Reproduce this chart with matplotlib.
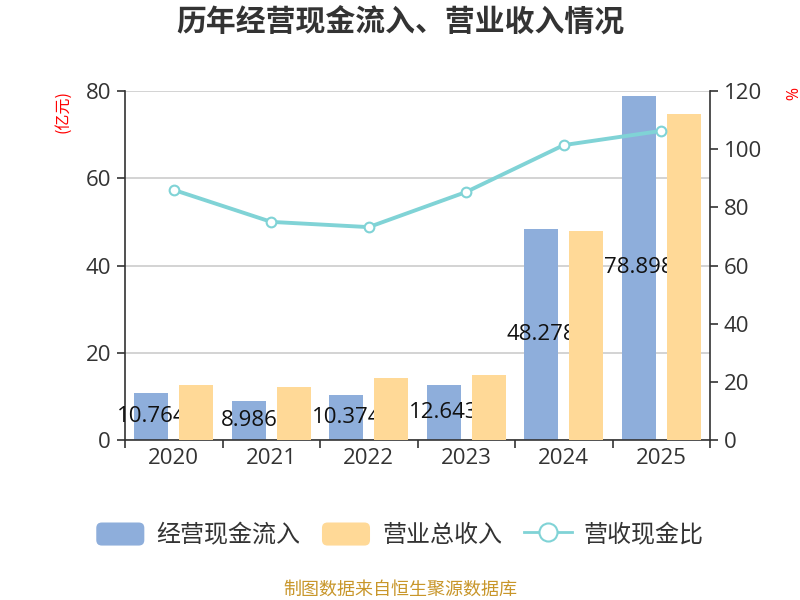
import matplotlib
matplotlib.use("Agg")
import matplotlib.pyplot as plt
from matplotlib.patches import FancyBboxPatch, Patch
from matplotlib.lines import Line2D
from matplotlib.legend_handler import HandlerPatch
import numpy as np

plt.rcParams['font.family'] = ['Noto Sans CJK SC', 'DejaVu Sans']

years = ['2020', '2021', '2022', '2023', '2024', '2025']
cash_in = [10.764, 8.986, 10.374, 12.643, 48.278, 78.898]
revenue = [12.7, 12.1, 14.3, 15.0, 47.9, 74.7]
ratio = [86.0, 75.0, 73.2, 85.3, 101.4, 106.3]

blue = '#8eaedb'
orange = '#ffd997'
teal = '#80d3d6'
dark = '#333333'
numfont = ['Open Sans', 'DejaVu Sans']


class RoundHandler(HandlerPatch):
    def create_artists(self, legend, orig_handle, xdescent, ydescent,
                       width, height, fontsize, trans):
        p = FancyBboxPatch((-xdescent, -ydescent), width, height,
                           boxstyle="round,pad=0,rounding_size=4",
                           fc=orig_handle.get_facecolor(), ec='none',
                           transform=trans)
        return [p]


fig = plt.figure(figsize=(8, 6), dpi=100)
ax = fig.add_axes([0.15625, 0.2667, 0.73125, 0.5816])
ax2 = ax.twinx()

x = np.arange(len(years))
w = 0.35
off = 0.23
ax.bar(x - off, cash_in, w, color=blue, zorder=2)
ax.bar(x + off, revenue, w, color=orange, zorder=4)
for xi, v in zip(x, cash_in):
    ax.text(xi - off, v / 2, f'{v:g}', ha='center', va='center',
            fontsize=16, family=numfont, color='#111111', zorder=3)

ax.set_xlim(-0.5, 5.5)
ax.set_ylim(0, 80)
ax.set_yticks(range(0, 81, 20))
ax.set_xticks(np.arange(-0.5, 5.6, 1))
ax.set_xticklabels([])
ax.set_xticks(x, minor=True)
ax.set_xticklabels(years, minor=True, family=numfont)
ax.set_yticklabels([str(v) for v in range(0, 81, 20)], family=numfont)
ax.tick_params(axis='x', which='major', length=6, color=dark, width=1.2)
ax.tick_params(axis='x', which='minor', length=0, labelsize=16,
               labelcolor=dark, pad=6)
ax.tick_params(axis='y', length=6, color=dark, width=1.2, labelsize=16,
               labelcolor=dark, pad=4)
ax.grid(axis='y', color='#cccccc', linewidth=1.2, zorder=0)
ax.set_axisbelow(True)
for s in ['top', 'right']:
    ax.spines[s].set_visible(False)
ax.spines['left'].set_color(dark)
ax.spines['bottom'].set_color(dark)
ax.spines['left'].set_linewidth(1.2)
ax.spines['bottom'].set_linewidth(1.2)

ax2.plot(x, ratio, color=teal, linewidth=2.8, marker='o', markersize=7,
         markerfacecolor='white', markeredgecolor=teal, markeredgewidth=1.5,
         zorder=5)
ax2.set_ylim(0, 120)
ax2.set_yticks(range(0, 121, 20))
ax2.set_yticklabels([str(v) for v in range(0, 121, 20)], family=numfont)
ax2.tick_params(axis='y', length=6, color=dark, width=1.2, labelsize=16,
                labelcolor=dark, pad=4)
for s in ['top', 'left', 'bottom']:
    ax2.spines[s].set_visible(False)
ax2.spines['right'].set_color(dark)
ax2.spines['right'].set_linewidth(1.2)

fig.text(0.078, 0.85, '(亿元)', color='red', fontsize=11.5, rotation=90,
         ha='center', va='top')
fig.text(0.985, 0.855, '%', color='red', fontsize=11.5, rotation=-90,
         ha='center', va='top', family=numfont)

fig.text(0.5, 0.962, '历年经营现金流入、营业收入情况', ha='center', va='center',
         fontsize=21.5, fontweight='bold', color=dark)

handles = [Patch(facecolor=blue), Patch(facecolor=orange),
           Line2D([], [], color=teal, linewidth=2, marker='o', markersize=13,
                  markerfacecolor='white', markeredgecolor=teal,
                  markeredgewidth=1.5)]
labels = ['经营现金流入', '营业总收入', '营收现金比']
fig.legend(handles, labels, loc='center', bbox_to_anchor=(0.5, 0.108),
           ncol=3, frameon=False, fontsize=17.3, handlelength=2.0,
           handleheight=1.1, columnspacing=0.9, handletextpad=0.5,
           labelcolor=dark,
           handler_map={Patch: RoundHandler()})

fig.text(0.5, 0.018, '制图数据来自恒生聚源数据库', ha='center', va='center',
         fontsize=13, color='#c8962a')

fig.savefig('out.png', dpi=100)
